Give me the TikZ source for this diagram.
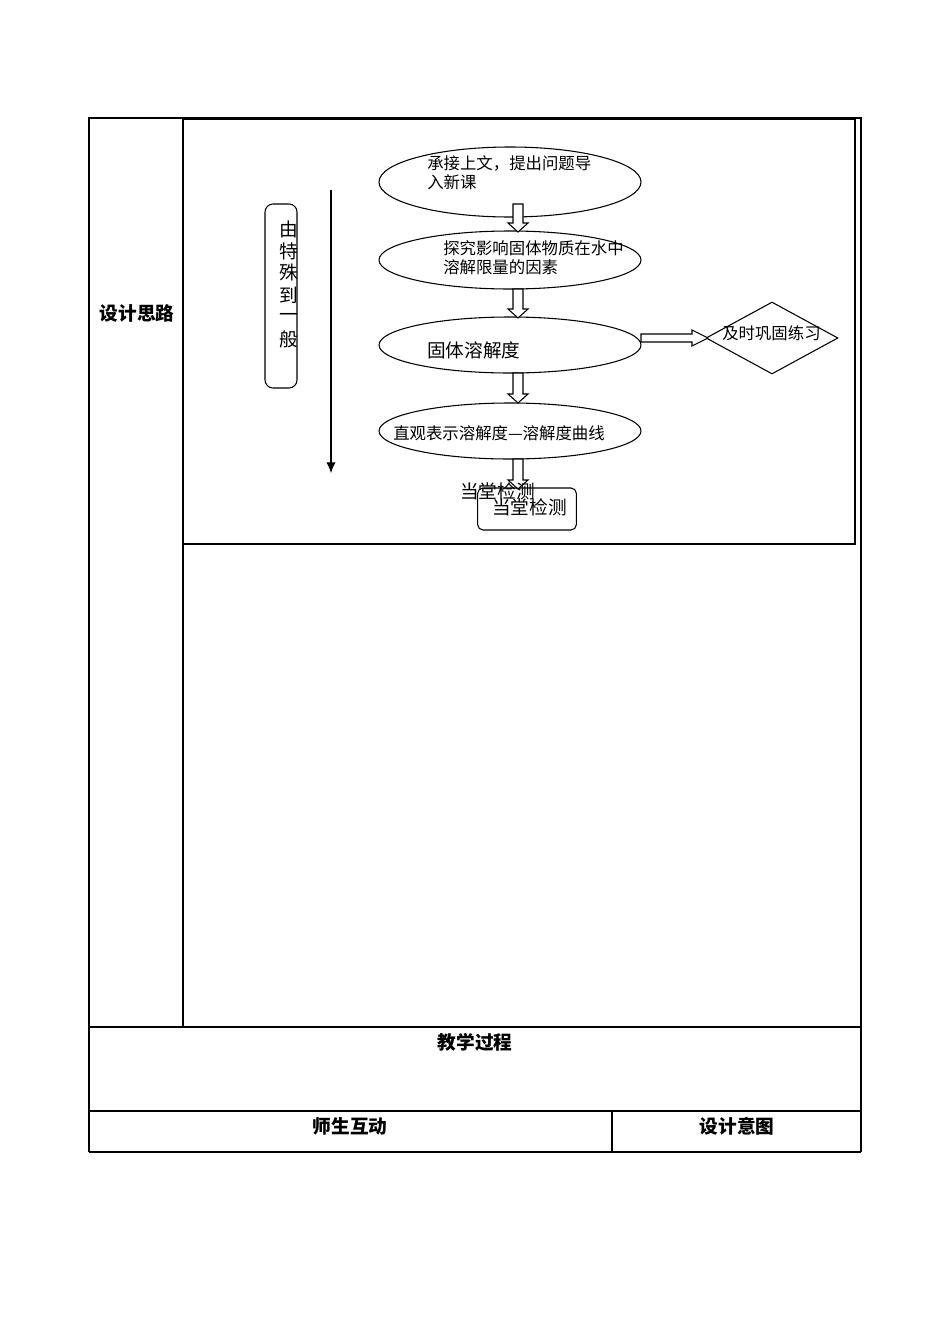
\documentclass[tikz,border=0pt]{standalone}
\usepackage{fontspec}
\newfontfamily\cjk{Noto Sans CJK SC}
\usetikzlibrary{shapes.geometric,arrows.meta}
\begin{document}
\begin{tikzpicture}[x=0.75pt,y=-0.75pt,
  ln/.style={draw=black,line width=0.8pt},
  ell/.style={ln,ellipse,inner sep=0pt},
  txt/.style={font=\cjk\fontsize{12.3}{14}\selectfont,inner sep=0pt,anchor=west},
  big/.style={font=\cjk\fontsize{14}{16}\selectfont,inner sep=0pt,anchor=west},
  hd/.style={font=\cjk\bfseries\fontsize{14}{16}\selectfont,inner sep=0pt},
  hollow/.style={ln,fill=white}]
\useasboundingbox (0,0) rectangle (950,1342);
% table
\draw[ln] (89,118) -- (861,118) (89,117) -- (89,1152) (861,117) -- (861,1152);
\draw[ln] (183,118) -- (183,1027);
\draw[ln] (183,119) rectangle (855,544);
\draw[ln] (89,1027) -- (861,1027) (89,1111) -- (861,1111) (89,1152) -- (861,1152);
\draw[ln] (612,1111) -- (612,1152);
\node[hd] (h1) at (137,313) {设计思路};
\node[hd] (h2) at (475,1042) {教学过程};
\node[hd] (h3) at (350,1126) {师生互动};
\node[hd] (h4) at (737,1126) {设计意图};
% ellipses
\node[ell,minimum width=196.5pt,minimum height=52.5pt] (e1) at (510,182) {};
\node[ell,minimum width=196.5pt,minimum height=43.5pt] (e2) at (510,260) {};
\node[ell,minimum width=196.5pt,minimum height=42pt] (e3) at (510,345) {};
\node[ell,minimum width=196.5pt,minimum height=42pt] (e4) at (510,431) {};
\node[ln,diamond,aspect=1.83,minimum width=99pt,minimum height=54pt,inner sep=0pt] (d) at (772,338) {};
\node[ln,rounded corners=4pt,minimum width=74pt,minimum height=31.5pt,inner sep=0pt] (b) at (527,509) {};
\node[ln,rounded corners=6pt,minimum width=24pt,minimum height=138pt,inner sep=0pt] (v) at (281,296) {};
\coordinate (at) at (331,190); \coordinate (ab) at (331,473);
\draw[ln,-{Latex[length=8pt,width=7pt]}] (at) -- (ab);
% hollow arrows
\foreach \ya/\yb in {204/232, 289/318, 373/403, 459/489}{
  \draw[hollow] (513,\ya) -- (523,\ya) -- (523,\yb-9) -- (528,\yb-9) -- (518,\yb) -- (508,\yb-9) -- (513,\yb-9) -- cycle;}
\draw[hollow] (641,334) -- (692,334) -- (692,330) -- (708,338) -- (692,346) -- (692,342) -- (641,342) -- cycle;
% texts
\node[txt] (t1) at (427,163) {承接上文，提出问题导};
\node[txt] (t1b) at (427,182) {入新课};
\node[txt] (t2) at (443,248) {探究影响固体物质在水中};
\node[txt] (t2b) at (443,267) {溶解限量的因素};
\node[big] (t3) at (427,350) {固体溶解度};
\node[txt] (t4) at (393,433) {直观表示溶解度—溶解度曲线};
\node[txt] (t5) at (722,333) {及时巩固练习};
\node[big] (t6) at (460,491) {当堂检测};
\node[big] (t7) at (492,507) {当堂检测};
\foreach \c [count=\i] in {由,特,殊,到,一,般}{
  \node[big,anchor=center] (vc\i) at (289,207+22*\i) {\c};}
\end{tikzpicture}
\end{document}
